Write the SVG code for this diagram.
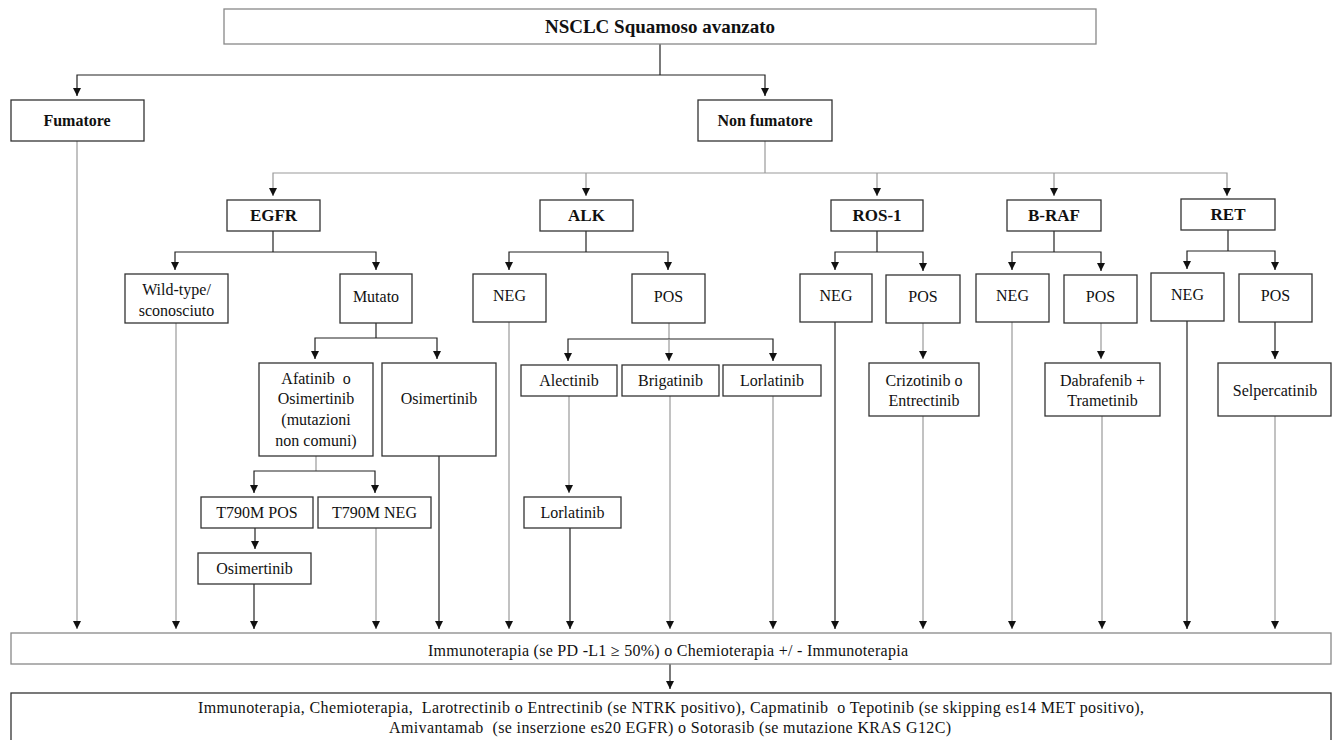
<svg xmlns="http://www.w3.org/2000/svg" width="1341" height="740" viewBox="0 0 1341 740">
<style>
  .bx{fill:#fff;stroke:#333;stroke-width:1.3}
  .bg{fill:#fff;stroke:#888;stroke-width:1.3}
  .t{font-family:"Liberation Serif","Times New Roman",serif;font-size:16px;fill:#111;text-anchor:middle}
  .b{font-weight:bold}
  .dk{fill:none;stroke:#222;stroke-width:1.2}
  .lt{fill:none;stroke:#999;stroke-width:1.2}
</style>
<defs>
  <marker id="ah" markerUnits="userSpaceOnUse" markerWidth="9" markerHeight="9" refX="8" refY="4" orient="auto">
    <path d="M0,0 L8,4 L0,8 z" fill="#111"/>
  </marker>
</defs>
<rect width="1341" height="740" fill="#fff"/>

<g id="connectors">
  <path class="dk" d="M660,44 V75"/>
  <path class="dk" d="M660,75 H77 V96" marker-end="url(#ah)"/>
  <path class="dk" d="M660,75 H765 V96" marker-end="url(#ah)"/>

  <path class="lt" d="M765,141 V173"/>
  <path class="lt" d="M765,173 H273 V196" marker-end="url(#ah)"/>
  <path class="lt" d="M765,173 H1227 V196" marker-end="url(#ah)"/>
  <path class="lt" d="M586,173 V196" marker-end="url(#ah)"/>
  <path class="lt" d="M877,173 V196" marker-end="url(#ah)"/>
  <path class="lt" d="M1054,173 V196" marker-end="url(#ah)"/>

  <path class="dk" d="M273,231 V252"/>
  <path class="dk" d="M273,252 H175 V270" marker-end="url(#ah)"/>
  <path class="dk" d="M273,252 H376 V270" marker-end="url(#ah)"/>

  <path class="dk" d="M586,231 V252"/>
  <path class="dk" d="M586,252 H509 V270" marker-end="url(#ah)"/>
  <path class="dk" d="M586,252 H668 V270" marker-end="url(#ah)"/>

  <path class="dk" d="M877,231 V252"/>
  <path class="dk" d="M877,252 H835 V270" marker-end="url(#ah)"/>
  <path class="dk" d="M877,252 H923 V271" marker-end="url(#ah)"/>

  <path class="dk" d="M1054,231 V252"/>
  <path class="dk" d="M1054,252 H1012 V270" marker-end="url(#ah)"/>
  <path class="dk" d="M1054,252 H1101 V271" marker-end="url(#ah)"/>

  <path class="dk" d="M1228,230 V251"/>
  <path class="dk" d="M1228,251 H1187 V269" marker-end="url(#ah)"/>
  <path class="dk" d="M1228,251 H1275 V270" marker-end="url(#ah)"/>

  <path class="dk" d="M376,323 V338"/>
  <path class="dk" d="M376,338 H315 V359" marker-end="url(#ah)"/>
  <path class="dk" d="M376,338 H437 V359" marker-end="url(#ah)"/>

  <path class="lt" d="M316,456 V471"/>
  <path class="dk" d="M316,471 H254 V493" marker-end="url(#ah)"/>
  <path class="dk" d="M316,471 H375 V493" marker-end="url(#ah)"/>

  <path class="dk" d="M255,528 V549" marker-end="url(#ah)"/>

  <path class="lt" d="M669,323 V339"/>
  <path class="dk" d="M669,339 H568 V361" marker-end="url(#ah)"/>
  <path class="dk" d="M669,339 H773 V361" marker-end="url(#ah)"/>
  <path class="lt" d="M669,339 V361" marker-end="url(#ah)"/>

  <path class="lt" d="M569,396 V493" marker-end="url(#ah)"/>
  <path class="lt" d="M923,323 V359" marker-end="url(#ah)"/>
  <path class="lt" d="M1101,323 V359" marker-end="url(#ah)"/>
  <path class="dk" d="M1275,322 V359" marker-end="url(#ah)"/>

  <path class="lt" d="M77,141 V629" marker-end="url(#ah)"/>
  <path class="lt" d="M176,323 V629" marker-end="url(#ah)"/>
  <path class="dk" d="M254,584 V629" marker-end="url(#ah)"/>
  <path class="lt" d="M376,528 V629" marker-end="url(#ah)"/>
  <path class="dk" d="M439,456 V629" marker-end="url(#ah)"/>
  <path class="lt" d="M509,322 V629" marker-end="url(#ah)"/>
  <path class="dk" d="M570,528 V629" marker-end="url(#ah)"/>
  <path class="lt" d="M670,396 V629" marker-end="url(#ah)"/>
  <path class="lt" d="M773,396 V629" marker-end="url(#ah)"/>
  <path class="dk" d="M835,322 V629" marker-end="url(#ah)"/>
  <path class="lt" d="M923,416 V629" marker-end="url(#ah)"/>
  <path class="lt" d="M1012,322 V629" marker-end="url(#ah)"/>
  <path class="lt" d="M1102,416 V629" marker-end="url(#ah)"/>
  <path class="dk" d="M1187,321 V629" marker-end="url(#ah)"/>
  <path class="lt" d="M1275,416 V629" marker-end="url(#ah)"/>

  <path class="dk" d="M670,664 V689" marker-end="url(#ah)"/>
</g>

<g id="root"><rect class="bg" x="224" y="9" width="872" height="35"/><text class="t b" x="660" y="33" style="font-size:19px">NSCLC Squamoso avanzato</text></g>
<g id="fumatore"><rect class="bx" x="11" y="100" width="133" height="41"/><text class="t b" x="77" y="126">Fumatore</text></g>
<g id="nonfumatore"><rect class="bx" x="698" y="100" width="134" height="41"/><text class="t b" x="765" y="126">Non fumatore</text></g>

<g id="egfr"><rect class="bx" x="227" y="200" width="93" height="31"/><text class="t b" x="273.5" y="221" style="font-size:17px">EGFR</text></g>
<g id="alk"><rect class="bx" x="540" y="200" width="93" height="31"/><text class="t b" x="586.5" y="221" style="font-size:17px">ALK</text></g>
<g id="ros1"><rect class="bx" x="831" y="200" width="92" height="31"/><text class="t b" x="877" y="221" style="font-size:17px">ROS-1</text></g>
<g id="braf"><rect class="bx" x="1007" y="200" width="94" height="31"/><text class="t b" x="1054" y="221" style="font-size:17px">B-RAF</text></g>
<g id="ret"><rect class="bx" x="1181" y="199" width="94" height="31"/><text class="t b" x="1228" y="220" style="font-size:17px">RET</text></g>

<g id="wildtype"><rect class="bx" x="125" y="274" width="103" height="49"/><text class="t" x="176.5" y="295">Wild-type/</text><text class="t" x="176.5" y="316">sconosciuto</text></g>
<g id="mutato"><rect class="bx" x="340" y="274" width="72" height="49"/><text class="t" x="376" y="302">Mutato</text></g>
<g id="alk-neg"><rect class="bx" x="473" y="274" width="73" height="48"/><text class="t" x="509.5" y="301">NEG</text></g>
<g id="alk-pos"><rect class="bx" x="632" y="274" width="73" height="49"/><text class="t" x="668.5" y="302">POS</text></g>
<g id="ros-neg"><rect class="bx" x="800" y="274" width="72" height="48"/><text class="t" x="836" y="301">NEG</text></g>
<g id="ros-pos"><rect class="bx" x="886" y="275" width="74" height="48"/><text class="t" x="923" y="302">POS</text></g>
<g id="braf-neg"><rect class="bx" x="976" y="274" width="73" height="48"/><text class="t" x="1012.5" y="301">NEG</text></g>
<g id="braf-pos"><rect class="bx" x="1064" y="275" width="73" height="48"/><text class="t" x="1100.5" y="302">POS</text></g>
<g id="ret-neg"><rect class="bx" x="1151" y="273" width="73" height="48"/><text class="t" x="1187.5" y="300">NEG</text></g>
<g id="ret-pos"><rect class="bx" x="1239" y="274" width="73" height="48"/><text class="t" x="1275.5" y="301">POS</text></g>

<g id="afatinib"><rect class="bx" x="259" y="363" width="114" height="93"/><text class="t" x="316" y="383.5" xml:space="preserve">Afatinib  o</text><text class="t" x="316" y="404">Osimertinib</text><text class="t" x="316" y="425">(mutazioni</text><text class="t" x="316" y="446">non comuni)</text></g>
<g id="osimertinib1"><rect class="bx" x="382" y="363" width="114" height="93"/><text class="t" x="439" y="404">Osimertinib</text></g>
<g id="alectinib"><rect class="bx" x="521" y="365" width="96" height="31"/><text class="t" x="569" y="386">Alectinib</text></g>
<g id="brigatinib"><rect class="bx" x="622" y="365" width="97" height="31"/><text class="t" x="670.5" y="386">Brigatinib</text></g>
<g id="lorlatinib1"><rect class="bx" x="723" y="365" width="98" height="31"/><text class="t" x="772" y="386">Lorlatinib</text></g>
<g id="crizotinib"><rect class="bx" x="869" y="363" width="110" height="53"/><text class="t" x="924" y="385.5">Crizotinib o</text><text class="t" x="924" y="405.5">Entrectinib</text></g>
<g id="dabrafenib"><rect class="bx" x="1045" y="363" width="115" height="53"/><text class="t" x="1102.5" y="385.5">Dabrafenib +</text><text class="t" x="1102.5" y="405.5">Trametinib</text></g>
<g id="selpercatinib"><rect class="bx" x="1218" y="363" width="113" height="53"/><text class="t" x="1275" y="395.5">Selpercatinib</text></g>

<g id="t790m-pos"><rect class="bx" x="201" y="497" width="112" height="31"/><text class="t" x="257" y="517.5">T790M POS</text></g>
<g id="t790m-neg"><rect class="bx" x="318" y="497" width="113" height="31"/><text class="t" x="374.5" y="517.5">T790M NEG</text></g>
<g id="lorlatinib2"><rect class="bx" x="524" y="497" width="97" height="31"/><text class="t" x="572.5" y="517.5">Lorlatinib</text></g>
<g id="osimertinib2"><rect class="bx" x="198" y="553" width="113" height="31"/><text class="t" x="254.5" y="574">Osimertinib</text></g>

<g id="immuno"><rect class="bg" x="11" y="633" width="1320" height="31"/><text class="t" x="668" y="656" textLength="480" lengthAdjust="spacing">Immunoterapia (se PD -L1 ≥ 50%) o Chemioterapia +/ - Immunoterapia</text></g>
<g id="final"><rect class="bx" x="11" y="693" width="1320" height="52"/><text class="t" x="671" y="712.5" xml:space="preserve" textLength="946" lengthAdjust="spacing">Immunoterapia, Chemioterapia,  Larotrectinib o Entrectinib (se NTRK positivo), Capmatinib  o Tepotinib (se skipping es14 MET positivo),</text><text class="t" x="670" y="732.5" xml:space="preserve" textLength="562" lengthAdjust="spacing">Amivantamab  (se inserzione es20 EGFR) o Sotorasib (se mutazione KRAS G12C)</text></g>
</svg>
